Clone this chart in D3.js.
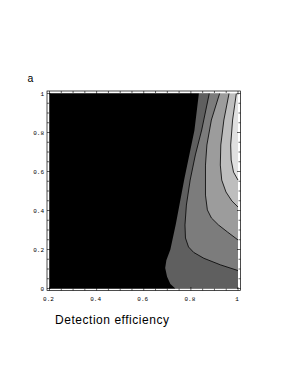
<!DOCTYPE html>
<html>
<head>
<meta charset="utf-8">
<script src="https://cdn.jsdelivr.net/npm/d3@7"></script>
<style>
  body { margin: 0; background: #fff; }
  text { fill: #000; }
</style>
</head>
<body>
<svg id="plot" width="295" height="382"></svg>
<script>
// contour lines, [efficiency, y]
var blackEdge = [[0.834,1],[0.815,0.81],[0.772,0.56],[0.736,0.33],[0.713,0.2],[0.696,0.145],[0.691,0.105],[0.699,0.06],[0.713,0.023],[0.734,0]];
var lineA = [[0.878,1],[0.846,0.813],[0.819,0.685],[0.797,0.556],[0.781,0.428],[0.775,0.326],[0.777,0.259],[0.790,0.213],[0.812,0.185],[0.855,0.155],[0.926,0.121],[1,0.092]];
var lineB = [[0.922,1],[0.887,0.864],[0.868,0.736],[0.862,0.633],[0.862,0.479],[0.870,0.403],[0.887,0.362],[0.917,0.326],[0.955,0.290],[1,0.249]];
var lineC = [[0.962,1],[0.940,0.864],[0.927,0.736],[0.925,0.633],[0.931,0.556],[0.949,0.495],[0.974,0.449],[1,0.418]];
var lineD = [[0.993,1],[0.977,0.864],[0.969,0.736],[0.971,0.659],[0.981,0.597],[1,0.556]];
var bandColors = ["#000000", "#5f5f5f", "#7c7c7c", "#9c9c9c", "#bebebe", "#e0e0e0"];
var xTicks = [0.2, 0.4, 0.6, 0.8, 1];
var yTicks = [0, 0.2, 0.4, 0.6, 0.8, 1];

var svg = d3.select("#plot");
var x = d3.scaleLinear().domain([0.2, 1]).range([49.5, 238]);
var y = d3.scaleLinear().domain([0, 1]).range([288.5, 93.5]);

var line = d3.line().x(function(d){ return x(d[0]); }).y(function(d){ return y(d[1]); });

var g = svg.append("g");

// lightest band fills the whole area first
g.append("rect")
  .attr("x", x(0.2)).attr("y", y(1))
  .attr("width", x(1) - x(0.2)).attr("height", y(0) - y(1))
  .attr("fill", bandColors[5]);

// each band: everything left / below its contour
var closeRight = [[1,0],[0.2,0],[0.2,1]];
[[lineD, 4], [lineC, 3], [lineB, 2], [lineA, 1]].forEach(function(p){
  g.append("path")
    .attr("d", line(p[0].concat(closeRight)) + "Z")
    .attr("fill", bandColors[p[1]]);
});

g.append("path")
  .attr("d", line(blackEdge.concat([[0.2,0],[0.2,1]])) + "Z")
  .attr("fill", bandColors[0]);

[lineA, lineB, lineC, lineD].forEach(function(l){
  g.append("path")
    .attr("d", line(l))
    .attr("fill", "none")
    .attr("stroke", "#000")
    .attr("stroke-width", 0.8);
});

// frame
var fx0 = 47, fx1 = 240.5, fy0 = 91, fy1 = 290.5;
svg.append("rect")
  .attr("x", fx0).attr("y", fy0)
  .attr("width", fx1 - fx0).attr("height", fy1 - fy0)
  .attr("fill", "none").attr("stroke", "#000").attr("stroke-width", 0.7);

var xMinor = d3.range(0.2, 1.001, 0.05);
var yMinor = d3.range(0, 1.001, 0.05);
function isMajor(v){ return Math.abs(v*5 - Math.round(v*5)) < 1e-6; }

var ticks = svg.append("g").attr("stroke", "#000").attr("stroke-width", 0.6);
xMinor.forEach(function(v){
  var len = isMajor(v) ? 3.5 : 2;
  ticks.append("line").attr("x1", x(v)).attr("x2", x(v)).attr("y1", fy1).attr("y2", fy1 - len);
  ticks.append("line").attr("x1", x(v)).attr("x2", x(v)).attr("y1", fy0).attr("y2", fy0 + len);
});
yMinor.forEach(function(v){
  var len = isMajor(v) ? 3.5 : 2;
  ticks.append("line").attr("y1", y(v)).attr("y2", y(v)).attr("x1", fx0).attr("x2", fx0 + len);
  ticks.append("line").attr("y1", y(v)).attr("y2", y(v)).attr("x1", fx1).attr("x2", fx1 - len);
});

svg.selectAll(".xl")
  .data(xTicks)
  .enter().append("text")
  .attr("class", "xl")
  .attr("x", function(d){ return x(d) - 1; })
  .attr("y", 301)
  .attr("text-anchor", "middle")
  .attr("font-family", "Liberation Mono")
  .attr("font-size", "6px")
  .text(function(d){ return d === 1 ? "1" : d3.format(".1f")(d); });

svg.selectAll(".yl")
  .data(yTicks)
  .enter().append("text")
  .attr("class", "yl")
  .attr("x", 44)
  .attr("y", function(d){ return y(d) + 2; })
  .attr("text-anchor", "end")
  .attr("font-family", "Liberation Mono")
  .attr("font-size", "6px")
  .text(function(d){ return (d === 0 || d === 1) ? String(d) : d3.format(".1f")(d); });

svg.append("text")
  .attr("x", 30.3).attr("y", 82)
  .attr("text-anchor", "middle")
  .attr("font-family", "Liberation Sans")
  .attr("font-size", "10.5px")
  .text("a");

svg.append("text")
  .attr("x", 55).attr("y", 323.5)
  .attr("font-family", "Liberation Sans")
  .attr("font-size", "12px")
  .attr("textLength", 114)
  .attr("lengthAdjust", "spacing")
  .text("Detection efficiency");
</script>
</body>
</html>
